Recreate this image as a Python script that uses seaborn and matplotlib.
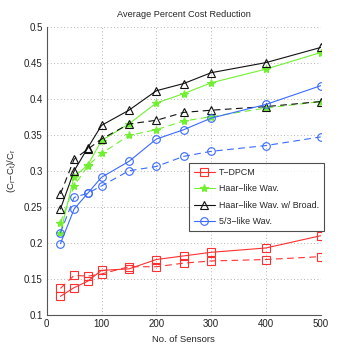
import numpy as np
import pandas as pd
import seaborn as sns
import matplotlib.pyplot as plt

sensors = [25, 50, 75, 100, 150, 200, 250, 300, 400, 500]

# solid lines
tdpcm = [0.126, 0.138, 0.147, 0.162, 0.164, 0.177, 0.182, 0.187, 0.193, 0.210]
haar = [0.214, 0.292, 0.308, 0.342, 0.365, 0.394, 0.407, 0.422, 0.441, 0.464]
haar_broad = [0.247, 0.300, 0.332, 0.363, 0.384, 0.411, 0.421, 0.436, 0.450, 0.471]
wav53 = [0.199, 0.247, 0.269, 0.291, 0.313, 0.344, 0.357, 0.373, 0.392, 0.418]

# dashed lines
tdpcm_d = [0.137, 0.155, 0.154, 0.157, 0.167, 0.167, 0.172, 0.175, 0.177, 0.181]
haar_d = [0.228, 0.279, 0.307, 0.324, 0.349, 0.357, 0.369, 0.375, 0.387, 0.396]
haar_broad_d = [0.268, 0.316, 0.330, 0.344, 0.365, 0.370, 0.381, 0.384, 0.389, 0.396]
wav53_d = [0.214, 0.263, 0.269, 0.279, 0.300, 0.306, 0.320, 0.327, 0.335, 0.347]

labels = ["T\u2212DPCM", "Haar\u2212like Wav.", "Haar\u2212like Wav. w/ Broad.", "5/3\u2212like Wav."]
yticks = [0.1, 0.15, 0.2, 0.25, 0.3, 0.35, 0.4, 0.45, 0.5]
ytick_labels = ["0.1", "0.15", "0.2", "0.25", "0.3", "0.35", "0.4", "0.45", "0.5"]

sns.set_style("white")
plt.rcParams['font.family'] = ['Liberation Sans', 'DejaVu Sans']
plt.rcParams['mathtext.fontset'] = 'custom'
plt.rcParams['mathtext.rm'] = 'Liberation Sans'
plt.rcParams['mathtext.it'] = 'Liberation Sans'

fig = plt.figure(figsize=(3.54, 3.54), dpi=100)
ax = fig.add_axes([0.132, 0.110, 0.774, 0.815])

series = [
    (tdpcm, tdpcm_d, "#ff3030", "s", labels[0]),
    (haar, haar_d, "#70f030", "*", labels[1]),
    (haar_broad, haar_broad_d, "#111111", "^", labels[2]),
    (wav53, wav53_d, "#3a6aff", "o", labels[3]),
]

handles = []
for solid, dashed, color, mk, lab in series:
    filled = mk == "*"
    kw = dict(color=color, marker=mk, markersize=6 if filled else 5.5,
              markeredgewidth=0.8, linewidth=0.8,
              markerfacecolor=color if filled else "none", markeredgecolor=color)
    sns.lineplot(x=sensors, y=solid, ax=ax, **kw)
    handles.append(ax.lines[-1])
    sns.lineplot(x=sensors, y=dashed, ax=ax, linestyle=(0, (6, 4)), **kw)

ax.set_xlim(0, 500)
ax.set_xticks([0, 100, 200, 300, 400, 500])
ax.set_yticks(yticks)
ax.set_yticklabels(ytick_labels)
ax.set_ylim(0.1, 0.5)
ax.grid(True, linestyle=(0, (1, 3)), color="#999999", linewidth=0.6)
for s in ["top", "right"]:
    ax.spines[s].set_visible(False)
for s in ["left", "bottom"]:
    ax.spines[s].set_color("#555555")
    ax.spines[s].set_linewidth(0.8)
ax.tick_params(direction="in", length=3, labelsize=7, colors="#222222", width=0.6, pad=3)

ax.set_title("Average Percent Cost Reduction", fontsize=6.6, pad=7)
ax.set_xlabel("No. of Sensors", fontsize=6.8, labelpad=4)
ax.set_ylabel(r"$\mathrm{(C_r\!-\!C_t)/C_r}$", fontsize=6.8, labelpad=4)

leg = ax.legend(handles, labels, loc="upper left", bbox_to_anchor=(0.519, 0.528),
                borderaxespad=0, fontsize=6.4,
                frameon=True, fancybox=False, edgecolor="#222222",
                handlelength=2.4, borderpad=0.55, labelspacing=0.85, handletextpad=0.4)
leg.get_frame().set_linewidth(0.8)

fig.savefig("out.png", dpi=100)
